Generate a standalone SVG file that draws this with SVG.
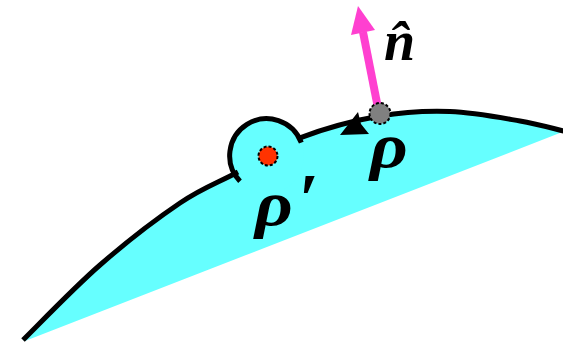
<svg xmlns="http://www.w3.org/2000/svg" width="563" height="344" viewBox="0 0 563 344">
<style>
.fill{fill:#66ffff;stroke:none}
.curve{fill:none;stroke:#000;stroke-width:5;stroke-linecap:butt}
.lbl{font-family:"Liberation Serif","Times New Roman",serif;font-weight:bold;font-style:italic;fill:#000}
.dot{stroke:#000;stroke-width:2;stroke-dasharray:3 2}
</style>
<g id="region">
<path class="fill" d="M23,340 C35.8,327.5 73.8,287.8 100,265 C126.2,242.2 157,218.5 180,203 C203,187.5 217.5,183 238,172 C258.5,161 279.3,146.3 303,137 C326.7,127.7 355.5,120.25 380,116 C404.5,111.75 426.7,110.7 450,111.5 C473.3,112.3 501.2,117.75 520,121 C538.8,124.25 555.8,129.3 565,131 L25,341 Z"/>
<circle class="fill" cx="267" cy="156.5" r="37"/>
</g>
<g id="boundary">
<path class="curve" d="M23,340 C35.8,327.5 73.8,287.8 100,265 C126.2,242.2 157,218.5 180,203 C203,187.5 217.5,183 238,172"/>
<path class="curve" d="M240,181.3 A37,37 0 1 1 301.3,142.6"/>
<path class="curve" d="M300,137.8 C326.7,127.7 355.5,120.25 380,116 C404.5,111.75 426.7,110.7 450,111.5 C473.3,112.3 501.2,117.75 520,121 C538.8,124.25 555.8,129.3 566,131.5"/>
</g>
<g id="connectors">
<line x1="378" y1="108" x2="363" y2="32" stroke="#ff40d0" stroke-width="8"/>
<polygon points="358,6 375,30 351,35" fill="#ff40d0"/>
<polygon points="340,135 358,112 361,124 369,134" fill="#000"/>
</g>
<g id="rho-prime-point">
<circle class="dot" cx="268" cy="156" r="9.5" fill="#ff3300"/>
</g>
<g id="rho-point">
<circle class="dot" cx="380" cy="113.5" r="10.5" fill="#808080"/>
</g>
<g id="labels">
<text class="lbl" x="384" y="60" font-size="56">n̂</text>
<text class="lbl" x="370" y="167" font-size="64" transform="translate(370 0) scale(1.15 1) translate(-370 0)">ρ</text>
<text class="lbl" x="255" y="225" font-size="64" transform="translate(255 0) scale(1.15 1) translate(-255 0)">ρ</text>
<text class="lbl" x="298" y="223" font-size="72">′</text>
</g>
</svg>
